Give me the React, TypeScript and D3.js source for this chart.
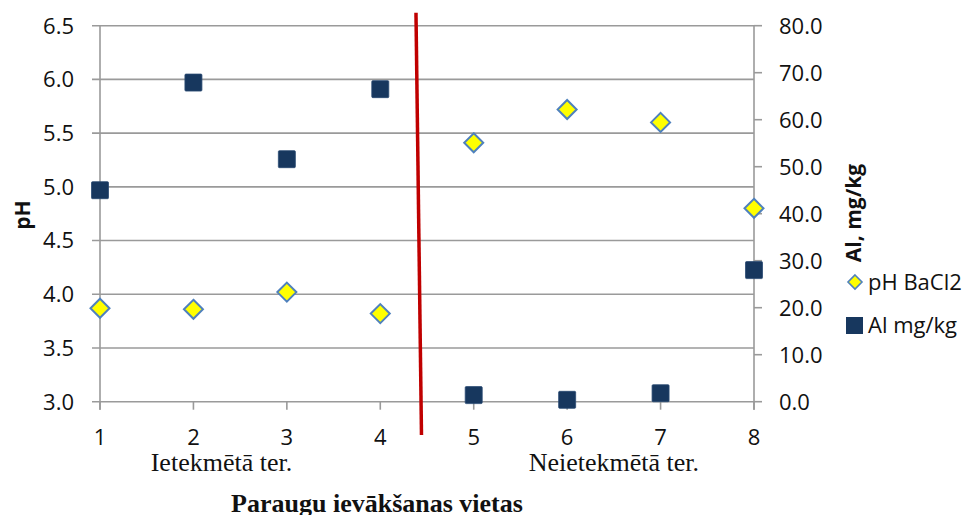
import React from "react";
import * as d3 from "d3";

const sites = [1, 2, 3, 4, 5, 6, 7, 8];
const phValues = [3.87, 3.86, 4.02, 3.82, 5.41, 5.72, 5.6, 4.8];
const alValues = [45.0, 67.9, 51.6, 66.5, 1.4, 0.4, 1.8, 28.0];
const phTicks = [3.0, 3.5, 4.0, 4.5, 5.0, 5.5, 6.0, 6.5];
const alTicks = [0, 10, 20, 30, 40, 50, 60, 70, 80];
const groupLabels = [
  { text: "Ietekmētā ter.", at: 2.3 },
  { text: "Neietekmētā ter.", at: 6.5 },
];
const divider = { xTop: 4.382, yTop: 6.62, xBottom: 4.441, yBottom: 2.69 };
const legendItems = ["pH BaCl2", "Al mg/kg"];

const W = 967;
const H = 515;
const M = { left: 100, right: 754, top: 25.7, bottom: 401.7 };

export default function App() {
  const x = d3.scaleLinear().domain([1, 8]).range([M.left, M.right]);
  const yPh = d3.scaleLinear().domain([3, 6.5]).range([M.bottom, M.top]);
  const yAl = d3.scaleLinear().domain([0, 80]).range([M.bottom, M.top]);

  const gray = "#9a9a9a";
  const tickFont = "'Open Sans', 'Noto Sans', sans-serif";
  const serif = "'Liberation Serif', 'Times New Roman', serif";
  const sq = 17;
  const dm = 9.5;
  const diamond = (cx: number, cy: number, r: number) =>
    `M${cx},${cy - r}L${cx + r},${cy}L${cx},${cy + r}L${cx - r},${cy}Z`;

  return (
    <svg
      width={W}
      height={H}
      style={{ position: "absolute", left: 0, top: 0, background: "#fff" }}
    >
      {/* gridlines + left ticks */}
      {phTicks.map((t) => (
        <g key={"g" + t}>
          <line x1={M.left - 8} x2={M.right} y1={yPh(t)} y2={yPh(t)} stroke={gray} strokeWidth={1.6} />
          <text
            x={74}
            y={yPh(t)}
            dy="0.36em"
            textAnchor="end"
            fontFamily={tickFont}
            fontSize={22}
            fill="#111"
          >
            {t.toFixed(1)}
          </text>
        </g>
      ))}
      {/* right ticks */}
      {alTicks.map((t) => (
        <g key={"a" + t}>
          <line x1={M.right} x2={M.right + 8} y1={yAl(t)} y2={yAl(t)} stroke={gray} strokeWidth={1.6} />
          <text
            x={779}
            y={yAl(t)}
            dy="0.36em"
            textAnchor="start"
            fontFamily={tickFont}
            fontSize={22}
            fill="#111"
          >
            {t.toFixed(1)}
          </text>
        </g>
      ))}
      {/* axes */}
      <line x1={M.left} x2={M.left} y1={M.top} y2={M.bottom + 8} stroke={gray} strokeWidth={1.6} />
      <line x1={M.right} x2={M.right} y1={M.top} y2={M.bottom + 8} stroke={gray} strokeWidth={1.6} />
      {sites.map((s) => (
        <g key={"x" + s}>
          <line x1={x(s)} x2={x(s)} y1={M.bottom} y2={M.bottom + 8} stroke={gray} strokeWidth={1.6} />
          <text
            x={x(s)}
            y={445}
            textAnchor="middle"
            fontFamily={tickFont}
            fontSize={22}
            fill="#111"
          >
            {s}
          </text>
        </g>
      ))}
      {/* group labels */}
      {groupLabels.map((g) => (
        <text
          key={g.text}
          x={x(g.at)}
          y={471}
          textAnchor="middle"
          fontFamily={serif}
          fontSize={26}
          fill="#111"
        >
          {g.text}
        </text>
      ))}
      {/* axis titles */}
      <text
        x={377}
        y={512}
        textAnchor="middle"
        fontFamily={serif}
        fontWeight="bold"
        fontSize={26}
        fill="#111"
      >
        Paraugu ievākšanas vietas
      </text>
      <text
        transform={`translate(30,215) rotate(-90)`}
        textAnchor="middle"
        fontFamily={tickFont}
        fontWeight="bold"
        fontSize={21}
        fill="#111"
      >
        pH
      </text>
      <text
        transform={`translate(861,213) rotate(-90)`}
        textAnchor="middle"
        fontFamily={tickFont}
        fontWeight="bold"
        fontSize={21}
        fill="#111"
      >
        Al, mg/kg
      </text>
      {/* Al squares */}
      {sites.map((s, i) => (
        <rect
          key={"s" + s}
          x={x(s) - sq / 2}
          y={yAl(alValues[i]) - sq / 2}
          width={sq}
          height={sq}
          rx={1}
          fill="#17375E"
          stroke="#2a4a72"
          strokeWidth={0.8}
        />
      ))}
      {/* pH diamonds */}
      {sites.map((s, i) => (
        <path
          key={"d" + s}
          d={diamond(x(s), yPh(phValues[i]), dm)}
          fill="#FFFF00"
          stroke="#4F81BD"
          strokeWidth={2}
        />
      ))}
      {/* divider line */}
      <line
        x1={x(divider.xTop)}
        y1={yPh(divider.yTop)}
        x2={x(divider.xBottom)}
        y2={yPh(divider.yBottom)}
        stroke="#C00000"
        strokeWidth={3.5}
      />
      {/* legend */}
      <path d={diamond(855, 282, 7)} fill="#FFFF00" stroke="#4F81BD" strokeWidth={1.6} />
      <text x={868} y={282} dy="0.36em" fontFamily={tickFont} fontSize={22} fill="#111">
        {legendItems[0]}
      </text>
      <rect x={846} y={317} width={17} height={17} fill="#17375E" />
      <text x={868} y={325.5} dy="0.36em" fontFamily={tickFont} fontSize={22} fill="#111">
        {legendItems[1]}
      </text>
    </svg>
  );
}
